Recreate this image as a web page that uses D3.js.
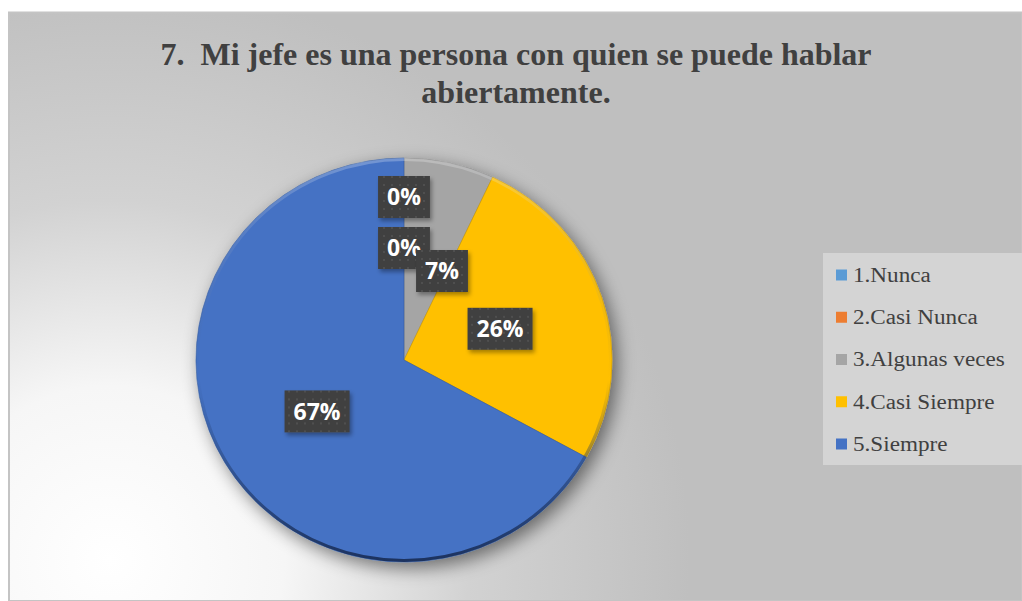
<!DOCTYPE html>
<html>
<head>
<meta charset="utf-8">
<script src="https://cdn.jsdelivr.net/npm/d3@7/dist/d3.min.js"></script>
<style>
  html, body { margin: 0; padding: 0; background: #ffffff; }
  svg { display: block; }
</style>
</head>
<body>
<svg id="chart" width="1022" height="601"></svg>
<script>
// Survey answers for question 7 (share of respondents, %)
const categories = ["1.Nunca", "2.Casi Nunca", "3.Algunas veces", "4.Casi Siempre", "5.Siempre"];
const percentages = [0, 0, 7, 26, 67];
const sliceColors = ["#5B9BD5", "#ED7D31", "#A5A5A5", "#FFC000", "#4472C4"];
const titleLines = ["7.  Mi jefe es una persona con quien se puede hablar", "abiertamente."];

const W = 1022, H = 601;
const svg = d3.select("#chart");
const defs = svg.append("defs");

// Chart area background: soft radial light spot toward the lower left
const bg = defs.append("radialGradient")
  .attr("id", "bgGrad").attr("gradientUnits", "userSpaceOnUse")
  .attr("cx", 110).attr("cy", 560).attr("r", 580);
bg.append("stop").attr("offset", 0).attr("stop-color", "#ffffff");
bg.append("stop").attr("offset", 0.3).attr("stop-color", "#f6f6f6");
bg.append("stop").attr("offset", 0.62).attr("stop-color", "#d2d2d2");
bg.append("stop").attr("offset", 1).attr("stop-color", "#bfbfbf");

svg.append("rect")
  .attr("x", 9).attr("y", 12.5).attr("width", W - 9).attr("height", H - 12.5)
  .attr("fill", "url(#bgGrad)")
  .attr("stroke", "#c4c4c4").attr("stroke-width", 2);

// Title
const title = svg.append("text")
  .attr("text-anchor", "middle")
  .style("white-space", "pre")
  .attr("font-family", "'Liberation Serif', 'Times New Roman', serif")
  .attr("font-weight", "bold").attr("font-size", 32)
  .attr("fill", "#404040");
title.selectAll("tspan").data(titleLines).join("tspan")
  .attr("x", 516).attr("y", (d, i) => 65 + i * 38)
  .text(d => d);

// Pie geometry (disc drawn slightly wider than tall)
const cx = 404, cy = 360, R = 202, stretchX = 1.03;
const pie = d3.pie().sort(null).value(d => d)(percentages);
const arc = d3.arc().innerRadius(0).outerRadius(R);

// Soft shadow under the pie
const shadow = defs.append("filter").attr("id", "pieShadow")
  .attr("x", "-20%").attr("y", "-20%").attr("width", "140%").attr("height", "140%");
shadow.append("feGaussianBlur").attr("in", "SourceAlpha").attr("stdDeviation", 9).attr("result", "b");
shadow.append("feOffset").attr("in", "b").attr("dx", 5).attr("dy", 6).attr("result", "o");
shadow.append("feComponentTransfer").attr("in", "o").attr("result", "s")
  .append("feFuncA").attr("type", "linear").attr("slope", 0.5);
const merge = shadow.append("feMerge");
merge.append("feMergeNode").attr("in", "s");
merge.append("feMergeNode").attr("in", "SourceGraphic");

const g = svg.append("g").attr("transform", `translate(${cx},${cy})`);
const disc = g.append("g").attr("transform", `scale(${stretchX},1)`);
const pieG = disc.append("g").attr("filter", "url(#pieShadow)");

pieG.selectAll("path.slice").data(pie).join("path")
  .attr("class", "slice")
  .attr("d", arc)
  .attr("fill", (d, i) => sliceColors[i])
  .attr("stroke", (d, i) => d3.color(sliceColors[i]).darker(0.6))
  .attr("stroke-width", 0.8)
  .attr("stroke-opacity", d => d.value > 0 ? 0.7 : 0);

// Bevelled rim: dark edge toward the bottom of the disc
const rim = defs.append("linearGradient").attr("id", "rimGrad")
  .attr("x1", 0).attr("y1", 0).attr("x2", 0).attr("y2", 1);
rim.append("stop").attr("offset", 0).attr("stop-color", "#ffffff").attr("stop-opacity", 0.25);
rim.append("stop").attr("offset", 0.55).attr("stop-color", "#1f3864").attr("stop-opacity", 0);
rim.append("stop").attr("offset", 1).attr("stop-color", "#1a2f5a").attr("stop-opacity", 0.95);
disc.append("circle").attr("r", R - 1.5)
  .attr("fill", "none").attr("stroke", "url(#rimGrad)").attr("stroke-width", 3);

// Data labels: dark boxes with white percentages
const dots = defs.append("pattern").attr("id", "dots")
  .attr("width", 8).attr("height", 8).attr("patternUnits", "userSpaceOnUse");
dots.append("rect").attr("width", 8).attr("height", 8).attr("fill", "#404040");
dots.append("circle").attr("cx", 4).attr("cy", 4).attr("r", 1).attr("fill", "#555555");

const labelShadow = defs.append("filter").attr("id", "labelShadow")
  .attr("x", "-30%").attr("y", "-30%").attr("width", "160%").attr("height", "160%");
labelShadow.append("feDropShadow").attr("dx", 2).attr("dy", 3)
  .attr("stdDeviation", 2).attr("flood-color", "#000").attr("flood-opacity", 0.35);

// Label anchors: centroid of each slice; empty slices stack upward along the 12 o'clock ray
const labelArc = d3.arc().innerRadius(0).outerRadius(R);
let zeroCount = 0;
const zeroSteps = [-163, -112];
const placed = [];
pie.forEach((d, i) => {
  let x, y;
  if (d.value === 0) {
    x = 0; y = zeroSteps[zeroCount++];
  } else {
    [x, y] = labelArc.centroid(d);
  }
  placed.push({ x, y, text: d3.format(".0f")(d.value) + "%", i });
});
// Nudge a label aside when it sits on top of an earlier one
placed.forEach((p, k) => {
  for (let j = 0; j < k; j++) {
    const q = placed[j];
    if (Math.abs(p.x - q.x) < 30 && Math.abs(p.y - q.y) < 30) {
      p.x = q.x + 38;
      p.y = Math.max(p.y, q.y + 23);
    }
  }
});

const lbl = g.append("g").selectAll("g").data(placed).join("g")
  .attr("transform", d => `translate(${d.x},${d.y})`);
const lblText = lbl.append("text")
  .attr("text-anchor", "middle").attr("dy", "0.36em")
  .attr("font-family", "'Open Sans', 'DejaVu Sans', sans-serif")
  .attr("font-weight", "bold").attr("font-size", 23)
  .attr("fill", "#ffffff")
  .text(d => d.text);
lblText.each(function (d) { d.w = this.getComputedTextLength(); });
lbl.insert("rect", "text")
  .attr("x", d => -(d.w + 18) / 2).attr("y", -21)
  .attr("width", d => d.w + 18).attr("height", 42)
  .attr("fill", "url(#dots)")
  .attr("filter", "url(#labelShadow)");

// Legend
const legend = svg.append("g");
legend.append("rect")
  .attr("x", 823).attr("y", 253).attr("width", W - 823).attr("height", 212)
  .attr("fill", "#d4d4d4");
const rowY = d3.scalePoint().domain(categories).range([275, 444]);
const item = legend.selectAll("g.item").data(categories).join("g")
  .attr("class", "item")
  .attr("transform", d => `translate(836,${rowY(d)})`);
item.append("rect")
  .attr("x", 0).attr("y", -5.5).attr("width", 11).attr("height", 11)
  .attr("fill", (d, i) => sliceColors[i]);
item.append("text")
  .attr("transform", "translate(17,0) scale(1.13,1)")
  .attr("dy", "0.34em")
  .attr("font-family", "'Liberation Serif', 'Times New Roman', serif")
  .attr("font-size", 20.5).attr("fill", "#404040")
  .text(d => d);
</script>
</body>
</html>
